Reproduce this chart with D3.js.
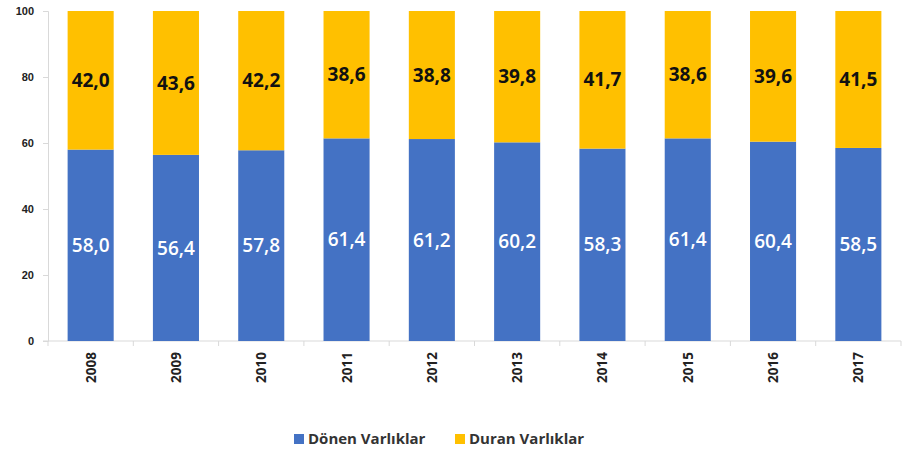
<!DOCTYPE html>
<html>
<head>
<meta charset="utf-8">
<script src="https://cdn.jsdelivr.net/npm/d3@7"></script>
<style>
  body { margin: 0; background: #fff; }
  svg { font-family: "Open Sans", "DejaVu Sans", sans-serif; }
</style>
</head>
<body>
<div id="chart"></div>
<script>
// years and shares (%)
var years = ["2008", "2009", "2010", "2011", "2012", "2013", "2014", "2015", "2016", "2017"];
var donen = [58.0, 56.4, 57.8, 61.4, 61.2, 60.2, 58.3, 61.4, 60.4, 58.5];
var duran = [42.0, 43.6, 42.2, 38.6, 38.8, 39.8, 41.7, 38.6, 39.6, 41.5];
var yTicks = [0, 20, 40, 60, 80, 100];
var seriesNames = ["Dönen Varlıklar", "Duran Varlıklar"];

var width = 904, height = 453;
var margin = {top: 11, right: 3, bottom: 112, left: 48};
var colors = ["#4472C4", "#FFC000"];

var svg = d3.select("#chart").append("svg")
    .attr("width", width)
    .attr("height", height);

var x = d3.scaleBand()
    .domain(years)
    .range([margin.left, width - margin.right])
    .paddingInner(0.46)
    .paddingOuter(0.23);

var y = d3.scaleLinear()
    .domain([0, 100])
    .range([height - margin.bottom, margin.top]);

var fmt = function(v) { return v.toFixed(1).replace(".", ","); };

var rows = years.map(function(yr, i) {
    return {year: yr, a: donen[i], b: duran[i]};
});

// y axis
var yAxis = svg.append("g")
    .attr("transform", "translate(" + margin.left + ",0)")
    .call(d3.axisLeft(y).tickValues(yTicks).tickSize(5).tickPadding(9));
yAxis.selectAll("line, path").attr("stroke", "#d9d9d9");
yAxis.selectAll("text")
    .style("font-size", "11px")
    .style("font-weight", "bold")
    .attr("fill", "#222");

// x axis: ticks between categories
var step = x.step();
var xAxis = svg.append("g")
    .attr("transform", "translate(0," + y(0) + ")");
xAxis.append("line")
    .attr("x1", margin.left - 5)
    .attr("x2", width - margin.right)
    .attr("stroke", "#d9d9d9");
xAxis.selectAll(".sep")
    .data(d3.range(years.length + 1))
    .enter().append("line")
    .attr("x1", function(i) { return margin.left + i * step; })
    .attr("x2", function(i) { return margin.left + i * step; })
    .attr("y1", 0).attr("y2", 5)
    .attr("stroke", "#d9d9d9");
xAxis.selectAll(".lbl")
    .data(years)
    .enter().append("text")
    .attr("transform", function(d) {
        return "translate(" + (x(d) + x.bandwidth() / 2 + 5) + ",11) rotate(-90)";
    })
    .attr("text-anchor", "end")
    .style("font-size", "13.5px")
    .style("font-weight", "bold")
    .attr("fill", "#222")
    .text(function(d) { return d; });

// bars
svg.selectAll(".barA")
    .data(rows)
    .enter().append("rect")
    .attr("x", function(d) { return x(d.year); })
    .attr("width", x.bandwidth())
    .attr("y", function(d) { return y(d.a); })
    .attr("height", function(d) { return y(0) - y(d.a); })
    .attr("fill", colors[0]);

svg.selectAll(".barB")
    .data(rows)
    .enter().append("rect")
    .attr("x", function(d) { return x(d.year); })
    .attr("width", x.bandwidth())
    .attr("y", function(d) { return y(d.a + d.b); })
    .attr("height", function(d) { return y(d.a) - y(d.a + d.b); })
    .attr("fill", colors[1]);

// value labels
svg.selectAll(".lblA")
    .data(rows)
    .enter().append("text")
    .attr("x", function(d) { return x(d.year) + x.bandwidth() / 2; })
    .attr("y", function(d) { return y(d.a / 2); })
    .attr("dy", "0.35em")
    .attr("text-anchor", "middle")
    .style("font-size", "19px")
    .style("font-weight", "600")
    .attr("fill", "#fff")
    .text(function(d) { return fmt(d.a); });

svg.selectAll(".lblB")
    .data(rows)
    .enter().append("text")
    .attr("x", function(d) { return x(d.year) + x.bandwidth() / 2; })
    .attr("y", function(d) { return y(d.a + d.b / 2); })
    .attr("dy", "0.35em")
    .attr("text-anchor", "middle")
    .style("font-size", "19px")
    .style("font-weight", "bold")
    .attr("fill", "#111")
    .text(function(d) { return fmt(d.b); });

// legend
var legendX = [294, 455];
var legend = svg.selectAll(".leg")
    .data(seriesNames)
    .enter().append("g")
    .attr("transform", function(d, i) { return "translate(" + legendX[i] + ",439)"; });
legend.append("rect")
    .attr("x", 0).attr("y", -5)
    .attr("width", 10).attr("height", 10)
    .attr("fill", function(d, i) { return colors[i]; });
legend.append("text")
    .attr("x", 14)
    .attr("dy", "0.35em")
    .style("font-size", "15px")
    .style("font-weight", "bold")
    .attr("fill", "#333")
    .text(function(d) { return d; });
</script>
</body>
</html>
